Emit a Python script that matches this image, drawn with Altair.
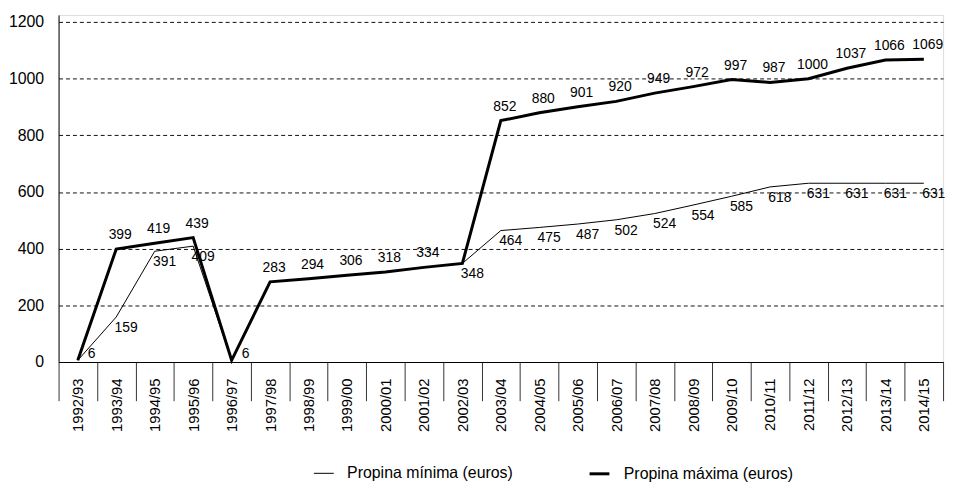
import altair as alt
import pandas as pd

years = ["1992/93", "1993/94", "1994/95", "1995/96", "1996/97", "1997/98",
         "1998/99", "1999/00", "2000/01", "2001/02", "2002/03", "2003/04",
         "2004/05", "2005/06", "2006/07", "2007/08", "2008/09", "2009/10",
         "2010/11", "2011/12", "2012/13", "2013/14", "2014/15"]
minima = [6, 159, 391, 409, 6, 283, 294, 306, 318, 334, 348, 464,
          475, 487, 502, 524, 554, 585, 618, 631, 631, 631, 631]
maxima = [6, 399, 419, 439, 6, 283, 294, 306, 318, 334, 348, 852,
          880, 901, 920, 949, 972, 997, 987, 1000, 1037, 1066, 1069]
series_names = ["Propina mínima (euros)", "Propina máxima (euros)"]
y_ticks = [0, 200, 400, 600, 800, 1000, 1200]

FONT = "Liberation Sans"

lines = pd.DataFrame(
    [{"curso": y, "serie": series_names[0], "valor": v} for y, v in zip(years, minima)]
    + [{"curso": y, "serie": series_names[1], "valor": v} for y, v in zip(years, maxima)]
)

# which points get which label
zero_lab, above_lab, below_lab = [], [], []
for y, lo, hi in zip(years, minima, maxima):
    if lo == hi and hi < 50:
        zero_lab.append({"curso": y, "valor": hi})
    elif lo == hi and y == "2002/03":
        below_lab.append({"curso": y, "valor": lo})
    elif lo == hi:
        above_lab.append({"curso": y, "valor": hi})
    else:
        above_lab.append({"curso": y, "valor": hi})
        below_lab.append({"curso": y, "valor": lo})

x_enc = alt.X(
    "curso:N", sort=years, title=None,
    scale=alt.Scale(type="band", paddingInner=0, paddingOuter=0),
    axis=alt.Axis(labelAngle=270, tickBand="extent", tickSize=39, labelPadding=-23,
                  labelFontSize=15, labelFont=FONT, labelColor="black",
                  domainColor="black", tickColor="#333", grid=False),
)
y_enc = alt.Y(
    "valor:Q", title=None,
    scale=alt.Scale(domain=[0, 1225], nice=False),
    axis=alt.Axis(values=y_ticks, format="d", ticks=False, labelPadding=15, labelFontSize=16,
                  labelFont=FONT, labelColor="black", domainColor="black",
                  grid=True, gridColor="#111", gridDash=[4, 3], gridWidth=1),
)

leg = alt.Legend(title=None, orient="none", legendX=257, legendY=451,
                 direction="horizontal", symbolType="stroke",
                 symbolSize=400, labelFontSize=16, labelFont=FONT,
                 labelColor="black", labelLimit=400, labelOffset=13,
                 columnPadding=70)

line = alt.Chart(lines).mark_line(strokeJoin="miter").encode(
    x=x_enc,
    y=y_enc,
    color=alt.Color("serie:N", sort=series_names,
                    scale=alt.Scale(domain=series_names, range=["#000000", "#000000"]),
                    legend=leg),
    strokeWidth=alt.StrokeWidth("serie:N", sort=series_names,
                                scale=alt.Scale(domain=series_names, range=[1, 3]),
                                legend=leg),
)

def labels(rows, dx, dy):
    return alt.Chart(pd.DataFrame(rows)).mark_text(
        dx=dx, dy=dy, fontSize=14, font=FONT, color="black", baseline="middle", align="center"
    ).encode(
        x=alt.X("curso:N", sort=years),
        y=alt.Y("valor:Q"),
        text=alt.Text("valor:Q"),
    )

chart = alt.layer(
    line,
    labels(above_lab, 4, -14),
    labels(below_lab, 10, 11),
    labels(zero_lab, 14, -6),
).properties(
    width=892, height=350,
    autosize=alt.AutoSizeParams(type="none"),
    padding={"left": 51, "top": 5, "right": 8, "bottom": 120},
).configure_view(stroke=None).configure(background="white")

chart.save("out.html", embed_options={"renderer": "svg", "actions": False})
